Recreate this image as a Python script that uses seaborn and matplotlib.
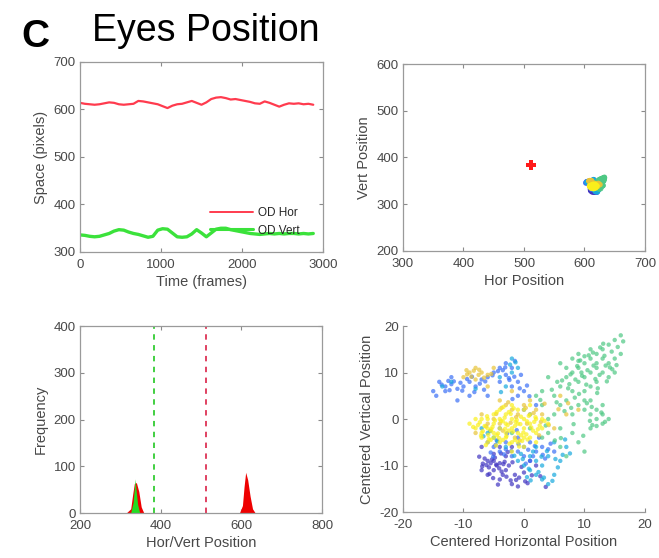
import numpy as np
import pandas as pd
import matplotlib
matplotlib.use("Agg")
import matplotlib.pyplot as plt
from matplotlib.colors import LinearSegmentedColormap
from matplotlib.lines import Line2D
import seaborn as sns

# ---- time series (frames vs. pixel position) ----
frames = np.arange(0, 2881, 60)
od_hor = [614, 612, 611, 610, 611, 613, 615, 614, 611, 610, 611, 612, 618, 617, 615, 613,
          611, 607, 603, 608, 611, 612, 615, 618, 614, 610, 615, 622, 625, 626, 624, 621,
          622, 620, 618, 616, 613, 612, 617, 614, 610, 606, 610, 613, 612, 613, 611, 612, 610]
od_vert = [336, 335, 333, 332, 333, 336, 339, 344, 347, 346, 342, 339, 337, 334, 331, 333,
           346, 349, 348, 340, 332, 331, 332, 338, 347, 340, 332, 340, 348, 350, 350, 347,
           345, 343, 341, 339, 338, 337, 338, 339, 338, 339, 338, 339, 339, 338, 339, 338, 339]

# ---- histogram outlines (position, frequency) ----
hor_hist_x = [317, 327, 332, 336, 341, 347, 353, 359]
hor_hist_y = [0, 8, 40, 62, 64, 45, 12, 0]
hor2_hist_x = [597, 604, 608, 612, 617, 623, 629, 635]
hor2_hist_y = [0, 15, 55, 86, 70, 35, 8, 0]
vert_hist_x = [327, 333, 338, 340, 344, 349]
vert_hist_y = [0, 22, 72, 50, 18, 0]
screen_center_x = 512
screen_center_y = 384

# ---- centered gaze samples, grouped by time (0 = start, 1 = end) ----
violet_x = [-6, -5.5, -5, -4.5, -4, -6.5, -5, -3.5, -4, -2, -1, -3, -2.5, -6, -7, -5, -3, -1.5,
            0, -2, -4, 1, 2, -7, -4.6, -5.8, -3.2, -2.2, -0.8, 0.6, 3.6, -6.8,
            -5.3, -4.1, -6.2, -3.7, -2.9, -1.3, -5.7, -4.8, -3.4, -0.4, 1.3, -2.7, -6.9, -4.3,
            -5.1, -1.9, 0.2, 2.7, -3.8, -7.4]
violet_y = [-9, -9.5, -9, -10, -9.5, -8.5, -11, -12, -13, -14, -14.5, -11, -10, -12, -11, -7.5,
            -8, -12, -11.5, -6, -6, -9, -10, -6, -9.8, -10.4, -9.2, -13.2, -12.6, -13.8, -14.6, -9.6,
            -8.7, -10.6, -9.9, -11.3, -12.4, -13.1, -11.8, -8.3, -9.7, -10.3, -12.1, -7.1, -10.2,
            -14.1, -12.7, -9.3, -13.4, -12.3, -7.4, -8.1]
blue_x = [-14, -13, -12, -11, -10, -13, -15, -12, -9, -8, -7, -6, -5, -4, -3, -2, -3, -4, -2, -1,
          0, -1, -6, -9, -11, -14.5, -5, -4, -3, -2, -1, 0, 1, 2, 3, 4, 5, -6, -3, 0, 1, -1, -4,
          1, 2, 0, -12.5, -10.5, -3.5, -1.5, -2.5, -0.5, 0.5, 1.5, 3.5, -5.5, -4.5, 2.5,
          -13.6, -12.3, -11.6, -10.2, -9.4, -8.6, -7.3, -6.4, -5.2, -4.3, -3.1, -2.4, -1.6, -0.7,
          -4.7, -3.3, -2.1, -0.9, 0.7, 1.8, 3.1, 4.4, -2.8, -1.2, -5.1, 0.3, -8.2, -6.6, -1.9, 0.9]
blue_y = [8, 7, 7.5, 6.5, 7, 6, 6, 9, 8, 7, 8.5, 9, 10, 11, 12, 11, 9.5, 8, 7, 8, 6, 5, 5, 5, 4,
          5, -6, -7, -6.5, -8, -7, -6, -5, -7, -6, -6.5, -7, -5, -5, -8, -9, -4, -2, 1, 3, 2, 8.2,
          7.8, 10.5, 12.5, 8.8, 9.5, 7.2, -8, -8.5, -7.2, -4.6, -4,
          7.4, 6.2, 8.1, 6.1, 8.6, 9.1, 7.6, 8.1, 9.4, 10.3, 11.1, 8.4, 9.1, 6.6, -5.6, -7.6, -6.9,
          -5.4, -6.6, -5.8, -7.7, -5.3, -3.1, -2.4, -8.1, -9.6, 5.8, 6.3, 4.3, 4.9]
cyan_x = [0, 1, 2, 3, 4, 2, 3, 5, 1, -1, 4, 6, 7, -6, -5, -7, -3, 2, 5, -2, -1, -4, -2, -3,
          0.5, 1.5, -0.5, -12, -13.5, -8,
          0.8, 2.4, 3.3, 4.7, 5.6, 6.4, 1.1, -0.2, -1.6, 2.9, 3.8, -5.6, -6.7, -4.4, -2.3, -1.4,
          6.8, 5.2, 7.6, -3.8]
cyan_y = [-10, -11, -12, -13, -14, -9, -10, -12, -8, -9, -8, -9, -6, -3, -4, -2, -6, -6, -5,
          10, 11, 9, 13, 7, -12.5, -7, -7.5, 8, 7, 6.5,
          -10.7, -11.4, -12.6, -13.3, -10.4, -7.7, -13.2, -8.6, -7.9, -8.1, -6.9, -2.6, -3.7,
          -4.8, 11.7, 12.2, -4.4, -8.6, -7.4, 5.8]
green_x = [5, 6, 7, 8, 9, 10, 11, 12, 13, 14, 15, 16, 9, 10, 11, 12, 13, 12, 11, 10, 8, 7, 6, 9,
           10, 11, 12, 13, 14, 12, 13, 11, 14, 15, 13, 8, 6, 7, 4, 5, 4, 6, 8, 9, 7, 10, 3, 2, 9,
           11, 12, 14, 15, 10, 16, 4, 6, 3, 1, -2, 8, 3, 10.5, 11.5, 9.5, 12.5, 13.5, 8.5, 7.5,
           5.5, 14.5, 11, 12, 13, 15.5, 10, 9,
           6.3, 7.7, 8.8, 9.3, 10.7, 11.4, 12.6, 13.3, 14.2, 15.3, 9.6, 10.3, 11.8, 12.2, 13.7,
           14.6, 7.3, 8.4, 9.1, 10.4, 11.2, 12.8, 13.4, 4.6, 5.4, 6.7, 7.8, 3.6, 2.7, 8.2, 9.8,
           10.9, 6.1, 5.1, 16.4, 13.1, 12.1, 11.3]
green_y = [5, 7, 9, 10, 11, 12, 13, 14, 15, 16, 17, 18, 8, 9, 10, 11, 10, 8, 7, 6, 6, 4, 3, 3,
           2, 1, 0, -1, 0, 2, 3, 4, 12, 13, 13, 13, 12, 11, 9, 1, 0, -2, -3, -5, -8, -7, 3, 5, 14,
           15, 12, 9, 10, 4, 14, -3, -6, -4, -2, -3, 1, 6, 10.5, 11.5, 10, 9.5, 11.5, 8.5, 7.5,
           8, 14.5, -2, -1.5, 1, 15.5, 13.5, 12.5,
           8.3, 9.6, 11.4, 12.6, 13.7, 14.3, 15.4, 13.6, 11.1, 11.6, 9.3, 7.4, 8.6, 6.6, 8.1,
           10.7, 6.6, 4.6, 5.4, 3.4, 2.6, 1.4, -0.6, 6.3, 3.6, 1.7, 2.4, -1.4, 4.1, -1.1, -3.6,
           -0.4, -4.1, -4.6, 16.7, 16.2, 5.6, -1.3]
orange_x = [-9, -8, -7, -6, -10, -8, -5, -6, -4, -3, -2, -1, 0, 1, 2, 3, -5, -7, -4, 5, 7, 9,
            -8, -6, -2, 6, -9.5, -7.5, -3.5, -1.5, 0.5, 2.5,
            -9.4, -8.3, -7.4, -6.6, -5.4, -8.7, -3.7, -2.6, -1.3, 0.3, 1.6, 2.8, 4.1, -4.6,
            -6.3, 3.4, 5.7, -0.7, -2.2, 7.3]
orange_y = [10, 11, 10, 9.5, 9, 8.5, 11, 7, 4, 3, 2, 1, 3, 4, 2, 1, 0, 1, -1, -2, 1, 2, -3, -1,
            6, 5, 10.5, 9.5, -2.5, -4, -1, -3.5,
            9.6, 10.4, 10.6, 8.9, 9.7, 9.1, 2.4, 3.6, 0.4, 2.4, 1.3, -0.6, -1.3, 1.1, -1.6, 3.3,
            2.1, -4.6, -0.8, 3.4]
yellow_x = [-8, -7, -6, -5, -4, -3, -2, -1, 0, 1, 2, 3, -6, -5, -4, -3, -2, -1, 0, 1, 2, -7, -5,
            -3, -1, 1, -4, -2, 0, -6, -4, -2, 0, 2, 3, 4, -8, -9, -3, -1, 1, -5, -7, 0, -2, -6.5,
            -5.5, -4.5, -3.5, -2.5, -1.5, -0.5, 0.5, 1.5, -4.5, -2.5, -0.5, -3.5, -1.5, -5.5,
            -7.6, -6.8, -5.9, -5.2, -4.3, -3.8, -2.7, -1.8, -0.6, 0.4, 1.2, 2.3, -7.3, -6.1,
            -4.8, -3.2, -2.2, -1.2, 0.8, 1.7, 2.6, -5.8, -4.1, -2.9, -0.3, -3.4, -1.7, -6.3,
            -4.6, -2.4, -0.8, 0.6, -8.4, -7.1, 1.9, 3.4, -5.4, -3.1, -1.4, -0.1]
yellow_y = [-2, -3, -2, -3, -2, -1, -2, -3, -2, -1, -3, -2, 0, 1, 0, 1, 0, -1, 0, 1, 0, -4, -4,
            -4, -5, -4, 2, 3, 2, -5, -5, -5, -4, -5, 0, -1, 0, -1, -3, 2, 3, -1, 0, -6, -7, -1.5,
            -2.5, -3.5, -0.5, -2.5, -1.5, -3.5, -0.5, -2.5, 1.5, 1.5, 0.5, -4.5, -4.5, -4.5,
            -1.3, -2.6, -3.4, -1.7, -3.1, -0.4, -1.3, -2.7, -1.1, -3.3, -1.8, -2.2, -0.7, 0.6,
            -0.3, 0.3, 1.1, -0.2, 0.7, -0.6, -1.4, -4.3, -4.1, -3.7, -4.7, 2.6, 2.3, -5.6, -5.7,
            -5.3, -5.9, -4.4, -1.7, -3.6, 0.4, -0.4, -2.2, -2.1, -0.6, -2.9]
group_time = {"violet": 0.05, "blue": 0.22, "cyan": 0.40, "green": 0.60,
              "orange": 0.82, "yellow": 0.97}
gaze_mean_x = 617
gaze_mean_y = 340

groups = [("violet", violet_x, violet_y), ("blue", blue_x, blue_y), ("cyan", cyan_x, cyan_y),
          ("green", green_x, green_y), ("orange", orange_x, orange_y),
          ("yellow", yellow_x, yellow_y)]
gaze = pd.concat([pd.DataFrame({"x": gx, "y": gy, "t": group_time[name]})
                  for name, gx, gy in groups], ignore_index=True)
gaze["abs_x"] = gaze["x"] + gaze_mean_x
gaze["abs_y"] = gaze["y"] + gaze_mean_y

parula = LinearSegmentedColormap.from_list("parula", [
    (0.2422, 0.1504, 0.6603), (0.2810, 0.3228, 0.9579), (0.1786, 0.5289, 0.9682),
    (0.0689, 0.6948, 0.8394), (0.2161, 0.7843, 0.5923), (0.6720, 0.7793, 0.2227),
    (0.9970, 0.7659, 0.2199), (0.9769, 0.9839, 0.0805)])

sns.set_theme(style="white")
plt.rcParams["font.family"] = ["Liberation Sans", "DejaVu Sans"]
plt.rcParams["axes.unicode_minus"] = False
plt.rcParams["axes.edgecolor"] = "#9a9a9a"
plt.rcParams["axes.linewidth"] = 0.9
plt.rcParams["xtick.color"] = "#8a8a8a"
plt.rcParams["ytick.color"] = "#8a8a8a"
plt.rcParams["xtick.labelcolor"] = "#484848"
plt.rcParams["ytick.labelcolor"] = "#484848"

TICK = 9.5
LAB = 10.5
LABC = "#484848"

fig = plt.figure(figsize=(6.59, 5.58), dpi=100)
ax1 = fig.add_axes([0.1214, 0.5484, 0.3687, 0.3405])
ax2 = fig.add_axes([0.6115, 0.5502, 0.3672, 0.3351])
ax3 = fig.add_axes([0.1214, 0.0806, 0.3672, 0.3351])
ax4 = fig.add_axes([0.6115, 0.0824, 0.3672, 0.3333])

def boxed(ax):
    ax.tick_params(direction="in", length=3, width=0.8, labelsize=TICK,
                   top=True, right=True, bottom=True, left=True)
    ax.tick_params(axis="x", pad=5)
    ax.tick_params(axis="y", pad=3)
    for s in ax.spines.values():
        s.set_visible(True)

# Panel 1: position over time
ts = pd.DataFrame({"frame": np.concatenate([frames, frames]),
                   "pos": od_hor + od_vert,
                   "series": ["OD Hor"] * len(frames) + ["OD Vert"] * len(frames)})
sns.lineplot(data=ts[ts.series == "OD Hor"], x="frame", y="pos", ax=ax1,
             color="#ff3b4e", lw=1.6)
sns.lineplot(data=ts[ts.series == "OD Vert"], x="frame", y="pos", ax=ax1,
             color="#3be23b", lw=2.4)
ax1.set_xlim(0, 3000)
ax1.set_ylim(300, 700)
ax1.set_xticks([0, 1000, 2000, 3000])
ax1.set_yticks([300, 400, 500, 600, 700])
ax1.set_xlabel("Time (frames)", fontsize=LAB, color=LABC, labelpad=3)
ax1.set_ylabel("Space (pixels)", fontsize=LAB, color=LABC, labelpad=4)
boxed(ax1)
handles = [Line2D([], [], color="#ff3b4e", lw=1.4), Line2D([], [], color="#3be23b", lw=2.2)]
ax1.legend(handles, ["OD Hor", "OD Vert"], loc="lower right",
           bbox_to_anchor=(0.93, 0.05), frameon=False, fontsize=8.5,
           handlelength=3.6, handletextpad=0.5, labelspacing=0.45, borderpad=0)

# Panel 2: absolute gaze positions with screen centre
gz = gaze.sort_values("t", kind="stable")
sns.scatterplot(data=gz, x="abs_x", y="abs_y", hue="t", palette=parula, hue_norm=(0, 1),
                s=14, linewidth=0, alpha=0.9, legend=False, ax=ax2)
ax2.plot([screen_center_x], [screen_center_y], marker="P", color="#ff1a1a",
         markersize=7, markeredgewidth=0)
ax2.set_xlim(300, 700)
ax2.set_ylim(200, 600)
ax2.set_xticks([300, 400, 500, 600, 700])
ax2.set_yticks([200, 300, 400, 500, 600])
ax2.set_xlabel("Hor Position", fontsize=LAB, color=LABC, labelpad=3)
ax2.set_ylabel("Vert Position", fontsize=LAB, color=LABC, labelpad=4)
boxed(ax2)

# Panel 3: position histograms
ax3.fill(hor_hist_x, hor_hist_y, color="#ee0000", lw=0)
ax3.fill(hor2_hist_x, hor2_hist_y, color="#ee0000", lw=0)
ax3.fill(vert_hist_x, vert_hist_y, color="#22dd22", lw=0)
ax3.axvline(screen_center_y, color="#33cc33", lw=1.3, ls=(0, (3, 3)))
ax3.axvline(screen_center_x, color="#dd3355", lw=1.3, ls=(0, (3, 3)))
ax3.set_xlim(200, 800)
ax3.set_ylim(0, 400)
ax3.set_xticks([200, 400, 600, 800])
ax3.set_yticks([0, 100, 200, 300, 400])
ax3.set_xlabel("Hor/Vert Position", fontsize=LAB, color=LABC, labelpad=3)
ax3.set_ylabel("Frequency", fontsize=LAB, color=LABC, labelpad=4)
boxed(ax3)

# Panel 4: centered gaze scatter
sns.scatterplot(data=gz, x="x", y="y", hue="t", palette=parula, hue_norm=(0, 1),
                s=10, linewidth=0, alpha=0.7, legend=False, ax=ax4)
ax4.set_xlim(-20, 20)
ax4.set_ylim(-20, 20)
ax4.set_xticks([-20, -10, 0, 10, 20])
ax4.set_yticks([-20, -10, 0, 10, 20])
ax4.set_xlabel("Centered Horizontal Position", fontsize=LAB, color=LABC, labelpad=3)
ax4.set_ylabel("Centered Vertical Position", fontsize=LAB, color=LABC, labelpad=4)
ax4.tick_params(direction="in", length=3, width=0.8, labelsize=TICK,
                top=False, right=False, bottom=True, left=True)
ax4.tick_params(axis="x", pad=5)
ax4.tick_params(axis="y", pad=3)
ax4.spines["top"].set_visible(False)
ax4.spines["right"].set_visible(False)

fig.text(0.033, 0.915, "C", fontsize=28, fontweight="bold", color="black")
fig.text(0.139, 0.927, "Eyes Position", fontsize=27, color="black")

fig.savefig("out.png", dpi=100)
